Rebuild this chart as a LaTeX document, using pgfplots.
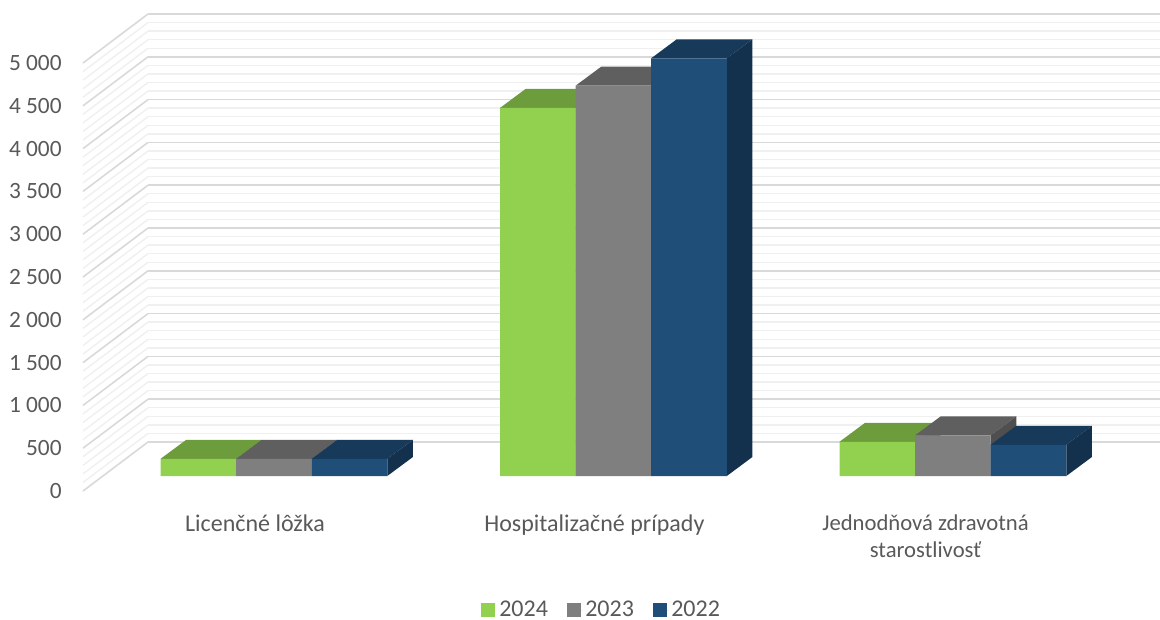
\documentclass[border=0pt]{standalone}
\usepackage{fontspec}
\setmainfont{Carlito}
\usepackage{pgfplots}
\pgfplotsset{compat=1.18}
\definecolor{txt}{HTML}{595959}
\definecolor{gmaj}{HTML}{D9D9D9}
\definecolor{gmin}{HTML}{F0F0F0}
\definecolor{cA}{HTML}{92D050}
\definecolor{cB}{HTML}{7F7F7F}
\definecolor{cC}{HTML}{1F4E79}
\definecolor{tA}{HTML}{6D9C3C}
\definecolor{tB}{HTML}{5F5F5F}
\definecolor{tC}{HTML}{173A5B}
\definecolor{sA}{HTML}{5A8232}
\definecolor{sB}{HTML}{4F4F4F}
\definecolor{sC}{HTML}{13304C}
\newcommand{\fnt}{\fontsize{18}{20}\selectfont}
\newcommand{\fnty}{\fontsize{17.5}{20}\selectfont}
\newcommand{\fntz}{\fontsize{17}{20}\selectfont}
\begin{document}
\begin{tikzpicture}
\path[use as bounding box] (0,0) rectangle (870pt,464.25pt);
% back wall: native grid
\begin{axis}[
  at={(111pt,132.75pt)}, anchor=south west, scale only axis,
  width=759pt, height=321pt,
  xmin=0, xmax=1, ymin=0, ymax=5000,
  ytick distance=500, minor y tick num=4, xtick=\empty, yticklabels={},
  grid=both, major tick length=0pt, minor tick length=0pt,
  major grid style={gmaj, line width=1.1pt},
  minor grid style={gmin, line width=1.1pt},
  axis line style={draw=none},
]
\end{axis}
% side wall and value axis
\begin{axis}[
  at={(62.25pt,96pt)}, anchor=south west, scale only axis,
  width=807.75pt, height=357.75pt, clip=false,
  xmin=-0.5623, xmax=2.61, ymin=0, ymax=5572.43,
  ytick={0,500,1000,1500,2000,2500,3000,3500,4000,4500,5000},
  yticklabels={0,500,1 000,1 500,2 000,2 500,3 000,3 500,4 000,4 500,5 000},
  xtick={-0.0557,0.944,1.9193},
  xticklabels={Licenčné lôžka,Hospitalizačné prípady,{\fntz Jednodňová zdravotná\\\fntz starostlivosť}},
  xticklabel style={align=center, anchor=north, font=\fnt, text=txt},
  yticklabel style={font=\fnty, text=txt},
  major tick length=0pt,
  ytick style={draw=none}, xtick style={draw=none},
  y tick label style={xshift=-12.5pt},
  x tick label style={yshift=-14.5pt},
  axis line style={draw=none},
]
\pgfplotsinvokeforeach{0,100,...,5000}{
  \pgfmathsetmacro\vb{#1+572.43}
  \edef\tmp{\noexpand\addplot[gmin,line width=1.1pt,forget plot] coordinates {(-0.5623,#1)(-0.37084,\vb)};}
  \tmp
}
\pgfplotsinvokeforeach{0,500,...,5000}{
  \pgfmathsetmacro\vb{#1+572.43}
  \edef\tmp{\noexpand\addplot[gmaj,line width=1.1pt,forget plot] coordinates {(-0.5623,#1)(-0.37084,\vb)};}
  \tmp
}
\end{axis}
% bars
\begin{axis}[
  at={(62.25pt,96pt)}, anchor=south west, scale only axis,
  width=807.75pt, height=357.75pt, clip=false,
  xmin=-0.5623, xmax=2.61, ymin=-175.23, ymax=5397.2,
  xtick=\empty, ytick=\empty,
  axis line style={draw=none},
  legend image code/.code={\fill[#1] (0pt,-5.25pt) rectangle (10.5pt,5.25pt);\path (0pt,0pt)--(12pt,0pt);},
  legend style={draw=none, fill=none, at={(0.4815,-0.2495)}, anchor=center,
    font=\fnt, text=txt, legend columns=3,
    inner ysep=0pt,
    /tikz/every even column/.append style={column sep=12pt}},
]
% 2024
\addplot[tA,fill=tA,draw=none,forget plot] coordinates {(-.334,200)(-.1113,200)(-.0359,422)(-.2586,422)};
\addplot[tA,fill=tA,draw=none,forget plot] coordinates {(.666,4300)(.8887,4300)(.9641,4522)(.7414,4522)};
\addplot[tA,fill=tA,draw=none,forget plot] coordinates {(1.666,400)(1.8887,400)(1.9641,622)(1.7414,622)};
\addplot[sA,fill=sA,draw=none,forget plot] coordinates {(-.1113,0)(-.1113,200)(-.0359,422)(-.0359,222)};
\addplot[sA,fill=sA,draw=none,forget plot] coordinates {(.8887,0)(.8887,4300)(.9641,4522)(.9641,222)};
\addplot[sA,fill=sA,draw=none,forget plot] coordinates {(1.8887,0)(1.8887,400)(1.9641,622)(1.9641,222)};
\addplot[ybar,bar width=56.7pt,bar shift=-56.7pt,fill=cA,draw=none] coordinates {(0,200)(1,4300)(2,400)};
\addlegendentry{2024}
% 2023
\addplot[tB,fill=tB,draw=none,forget plot] coordinates {(-.1113,200)(.1113,200)(.1867,422)(-.0359,422)};
\addplot[tB,fill=tB,draw=none,forget plot] coordinates {(.8887,4560)(1.1113,4560)(1.1867,4782)(.9641,4782)};
\addplot[tB,fill=tB,draw=none,forget plot] coordinates {(1.8887,475)(2.1113,475)(2.1867,697)(1.9641,697)};
\addplot[sB,fill=sB,draw=none,forget plot] coordinates {(.1113,0)(.1113,200)(.1867,422)(.1867,222)};
\addplot[sB,fill=sB,draw=none,forget plot] coordinates {(1.1113,0)(1.1113,4560)(1.1867,4782)(1.1867,222)};
\addplot[sB,fill=sB,draw=none,forget plot] coordinates {(2.1113,0)(2.1113,475)(2.1867,697)(2.1867,222)};
\addplot[ybar,bar width=56.7pt,bar shift=0pt,fill=cB,draw=none] coordinates {(0,200)(1,4560)(2,475)};
\addlegendentry{2023}
% 2022
\addplot[tC,fill=tC,draw=none,forget plot] coordinates {(.1113,200)(.334,200)(.4094,422)(.1867,422)};
\addplot[tC,fill=tC,draw=none,forget plot] coordinates {(1.1113,4880)(1.334,4880)(1.4094,5102)(1.1867,5102)};
\addplot[tC,fill=tC,draw=none,forget plot] coordinates {(2.1113,365)(2.334,365)(2.4094,587)(2.1867,587)};
\addplot[sC,fill=sC,draw=none,forget plot] coordinates {(.334,0)(.334,200)(.4094,422)(.4094,222)};
\addplot[sC,fill=sC,draw=none,forget plot] coordinates {(1.334,0)(1.334,4880)(1.4094,5102)(1.4094,222)};
\addplot[sC,fill=sC,draw=none,forget plot] coordinates {(2.334,0)(2.334,365)(2.4094,587)(2.4094,222)};
\addplot[ybar,bar width=56.7pt,bar shift=56.7pt,fill=cC,draw=none] coordinates {(0,200)(1,4880)(2,365)};
\addlegendentry{2022}
\end{axis}
\end{tikzpicture}
\end{document}
